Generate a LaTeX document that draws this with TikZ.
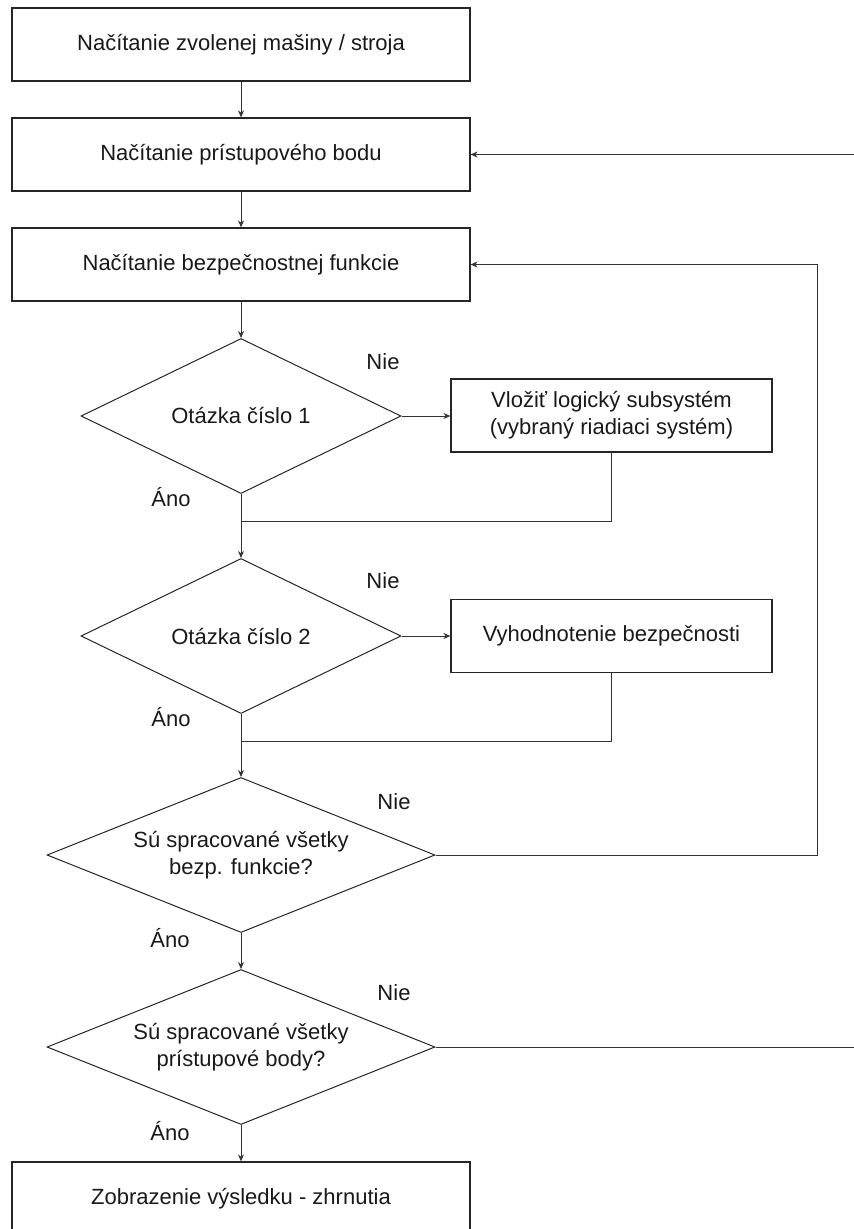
\documentclass[tikz,border=0pt]{standalone}
\usepackage{fontspec}
\setmainfont{Liberation Sans}
\usetikzlibrary{shapes.geometric,arrows.meta}
\begin{document}
\begin{tikzpicture}[x=1pt,y=-1pt,
  every node/.style={font=\fontsize{22}{27}\selectfont, text=black!90},
  procbox/.style={draw=black!85, line width=1.2pt, rectangle, inner sep=0pt,
    minimum width=458pt, minimum height=73pt, align=center},
  sidebox/.style={draw=black!85, line width=1.2pt, rectangle, inner sep=0pt,
    minimum width=321pt, minimum height=73pt, align=center},
  decide/.style={draw=black!85, line width=1pt, diamond, aspect=2.5, inner sep=0pt,
    minimum height=155pt, align=center},
  lbl/.style={inner sep=0pt},
  conn/.style={draw=black!80, line width=1pt},
  arr/.style={conn, -{Stealth[length=7pt,width=6pt]}}
]
\useasboundingbox (0,0) rectangle (854,1229);
\clip (0,0) rectangle (854,1229);

% main column
\node[procbox] (load1) at (241,44.5) {Načítanie zvolenej mašiny / stroja};
\node[procbox] (load2) at (241,154.5) {Načítanie prístupového bodu};
\node[procbox] (load3) at (241,264.5) {Načítanie bezpečnostnej funkcie};
\node[decide, minimum width=320pt] (q1) at (241,416) {Otázka číslo 1};
\node[decide, minimum width=320pt] (q2) at (241,636) {Otázka číslo 2};
\node[decide, minimum width=388pt] (q3) at (241,855) {Sú spracované všetky\\bezp. funkcie?};
\node[decide, minimum width=388pt] (q4) at (241,1047) {Sú spracované všetky\\prístupové body?};
\node[procbox] (result) at (241,1198.5) {Zobrazenie výsledku - zhrnutia};

% side actions
\node[sidebox] (logic) at (611.5,415.5) {Vložiť logický subsystém\\(vybraný riadiaci systém)};
\node[sidebox] (eval) at (611.5,636) {Vyhodnotenie bezpečnosti};

% branch labels
\node[lbl] (n1) at (383,362) {Nie};
\node[lbl] (a1) at (171,497) {Áno};
\node[lbl] (n2) at (383,581) {Nie};
\node[lbl] (a2) at (171,717) {Áno};
\node[lbl] (n3) at (394,802) {Nie};
\node[lbl] (a3) at (170,938) {Áno};
\node[lbl] (n4) at (394,993) {Nie};
\node[lbl] (a4) at (170,1131) {Áno};

% helper points
\coordinate (join1) at (241,521);
\coordinate (join2) at (241,741);
\coordinate (loopx) at (817,0);
\coordinate (inEdge) at (854,154.5);
\coordinate (outEdge) at (854,1047);

% connectors
\draw[arr] (load1) -- (load2);
\draw[arr] (load2) -- (load3);
\draw[arr] (load3) -- (q1);
\draw[arr] (q1.east) -- (q1.east -| logic.west);
\draw[conn] (logic.south) |- (join1);
\draw[arr] (q1.south) -- (q2.north);
\draw[arr] (q2.east) -- (q2.east -| eval.west);
\draw[conn] (eval.south) |- (join2);
\draw[arr] (q2.south) -- (q3.north);
\draw[arr] (q3.east) -| (loopx |- load3.east) -- (load3.east);
\draw[arr] (q3.south) -- (q4.north);
\draw[conn] (q4.east) -- (outEdge);
\draw[arr] (inEdge) -- (load2.east);
\draw[arr] (q4.south) -- (result.north);
\end{tikzpicture}
\end{document}
